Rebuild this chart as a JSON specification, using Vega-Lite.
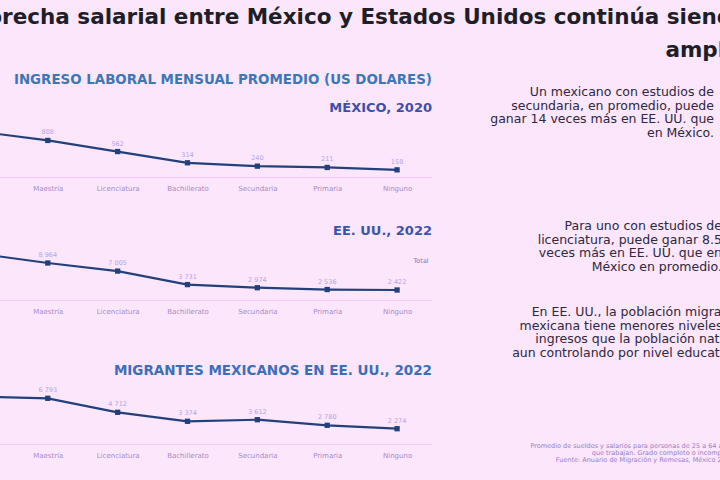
{
  "$schema": "https://vega.github.io/schema/vega-lite/v6.json",
  "background": "#fbe6fb",
  "padding": {"left": -57, "top": 7, "right": 0, "bottom": 30},
  "title": {
    "text": ["La brecha salarial entre México y Estados Unidos continúa siendo", "amplia"],
    "anchor": "end",
    "align": "right",
    "font": "DejaVu Sans",
    "fontSize": 21.5,
    "fontWeight": "bold",
    "color": "#1e1e28",
    "lineHeight": 33,
    "offset": 11,
    "dx": 5
  },
  "datasets": {
    "mexico": [
      {"nivel": "Doctorado", "ingreso": 1008},
      {"nivel": "Maestría", "ingreso": 808},
      {"nivel": "Licenciatura", "ingreso": 562},
      {"nivel": "Bachillerato", "ingreso": 314},
      {"nivel": "Secundaria", "ingreso": 240},
      {"nivel": "Primaria", "ingreso": 211},
      {"nivel": "Ninguno", "ingreso": 158}
    ],
    "eeuu": [
      {"nivel": "Doctorado", "ingreso": 11265, "serie": "Total"},
      {"nivel": "Maestría", "ingreso": 8964, "serie": "Total"},
      {"nivel": "Licenciatura", "ingreso": 7005, "serie": "Total"},
      {"nivel": "Bachillerato", "ingreso": 3731, "serie": "Total"},
      {"nivel": "Secundaria", "ingreso": 2974, "serie": "Total"},
      {"nivel": "Primaria", "ingreso": 2536, "serie": "Total"},
      {"nivel": "Ninguno", "ingreso": 2422, "serie": "Total"}
    ],
    "migrantes": [
      {"nivel": "Doctorado", "ingreso": 7031},
      {"nivel": "Maestría", "ingreso": 6793},
      {"nivel": "Licenciatura", "ingreso": 4712},
      {"nivel": "Bachillerato", "ingreso": 3374},
      {"nivel": "Secundaria", "ingreso": 3612},
      {"nivel": "Primaria", "ingreso": 2780},
      {"nivel": "Ninguno", "ingreso": 2274}
    ]
  },
  "spacing": 10,
  "hconcat": [
    {
      "spacing": 34,
      "resolve": {"scale": {"x": "independent", "y": "independent", "color": "independent"}},
      "vconcat": [
        {
          "data": {"name": "mexico"},
          "width": 489,
          "height": 40,
          "title": {
            "text": "INGRESO LABORAL MENSUAL PROMEDIO (US DOLARES)",
            "subtitle": "MÉXICO, 2020",
            "anchor": "end",
            "font": "DejaVu Sans",
            "fontSize": 13.4,
            "fontWeight": "bold",
            "color": "#3c78b4",
            "subtitleFont": "DejaVu Sans",
            "subtitleFontSize": 13,
            "subtitleFontWeight": "bold",
            "subtitleColor": "#3f4fa6",
            "subtitlePadding": 16,
            "offset": 5
          },
          "encoding": {
            "x": {
              "field": "nivel", "type": "nominal",
              "sort": ["Doctorado", "Maestría", "Licenciatura", "Bachillerato", "Secundaria", "Primaria", "Ninguno"],
              "title": null
            },
            "y": {"field": "ingreso", "type": "quantitative", "scale": {"domain": [0, 884], "nice": false}, "axis": null}
          },
          "layer": [
            {"mark": {"type": "line", "color": "#23407d", "strokeWidth": 2.2}},
            {"mark": {"type": "point", "shape": "square", "filled": true, "size": 28, "color": "#23407d", "opacity": 1}},
            {"mark": {"type": "text", "dy": -8, "fontSize": 6.5, "font": "DejaVu Sans", "color": "#b4a3e8"},
             "encoding": {"text": {"field": "ingreso", "type": "quantitative", "format": ",d"}}}
          ]
        },
        {
          "data": {"name": "eeuu"},
          "width": 489,
          "height": 45,
          "title": {
            "text": "EE. UU., 2022",
            "anchor": "end",
            "font": "DejaVu Sans",
            "fontSize": 13,
            "fontWeight": "bold",
            "color": "#3b55ac",
            "offset": 4
          },
          "encoding": {
            "x": {
              "field": "nivel", "type": "nominal",
              "sort": ["Doctorado", "Maestría", "Licenciatura", "Bachillerato", "Secundaria", "Primaria", "Ninguno"],
              "title": null
            },
            "y": {"field": "ingreso", "type": "quantitative", "scale": {"domain": [0, 10901], "nice": false}, "axis": null}
          },
          "layer": [
            {"mark": {"type": "line", "strokeWidth": 2.2},
             "encoding": {"color": {"field": "serie", "type": "nominal", "scale": {"range": ["#23407d"]},
               "legend": {"orient": "top-right", "offset": 3, "title": null, "labelFontSize": 6.5, "labelFont": "DejaVu Sans", "labelColor": "#8a7ab0", "symbolOpacity": 0, "symbolSize": 0, "padding": 0}}}},
            {"mark": {"type": "point", "shape": "square", "filled": true, "size": 28, "color": "#23407d", "opacity": 1}},
            {"mark": {"type": "text", "dy": -8, "fontSize": 6.5, "font": "DejaVu Sans", "color": "#b4a3e8"},
             "encoding": {"text": {"field": "ingreso", "type": "quantitative", "format": ",d"}}}
          ]
        },
        {
          "data": {"name": "migrantes"},
          "width": 489,
          "height": 50,
          "title": {
            "text": [" ", "MIGRANTES MEXICANOS EN EE. UU., 2022"],
            "anchor": "end",
            "font": "DejaVu Sans",
            "fontSize": 13.5,
            "fontWeight": "bold",
            "lineHeight": 16,
            "color": "#3c6fb8",
            "offset": 8
          },
          "encoding": {
            "x": {
              "field": "nivel", "type": "nominal",
              "sort": ["Doctorado", "Maestría", "Licenciatura", "Bachillerato", "Secundaria", "Primaria", "Ninguno"],
              "title": null
            },
            "y": {"field": "ingreso", "type": "quantitative", "scale": {"domain": [0, 7433], "nice": false}, "axis": null}
          },
          "layer": [
            {"mark": {"type": "line", "color": "#23407d", "strokeWidth": 2.2}},
            {"mark": {"type": "point", "shape": "square", "filled": true, "size": 28, "color": "#23407d", "opacity": 1}},
            {"mark": {"type": "text", "dy": -8, "fontSize": 6.5, "font": "DejaVu Sans", "color": "#b4a3e8"},
             "encoding": {"text": {"field": "ingreso", "type": "quantitative", "format": ",d"}}}
          ]
        }
      ]
    },
    {
      "spacing": 0,
      "vconcat": [
        {
          "data": {"values": [{}]},
          "mark": {"type": "point", "opacity": 0},
          "width": 272,
          "height": 83,
          "title": {
            "text": ["Un mexicano con estudios de", "secundaria, en promedio, puede", "ganar 14 veces más en EE. UU. que", "en México."],
            "anchor": "end", "align": "right", "font": "DejaVu Sans", "fontSize": 12.5, "fontWeight": "normal",
            "color": "#2e2840", "lineHeight": 13.5, "offset": -2
          }
        },
        {
          "data": {"values": [{}]},
          "mark": {"type": "point", "opacity": 0},
          "width": 280,
          "height": 33,
          "title": {
            "text": ["Para uno con estudios de", "licenciatura, puede ganar 8.5", "veces más en EE. UU. que en", "México en promedio."],
            "anchor": "end", "align": "right", "font": "DejaVu Sans", "fontSize": 12.5, "fontWeight": "normal",
            "color": "#2e2840", "lineHeight": 13.5, "offset": 0
          }
        },
        {
          "data": {"values": [{}]},
          "mark": {"type": "point", "opacity": 0},
          "width": 300,
          "height": 83,
          "title": {
            "text": ["En EE. UU., la población migrante", "mexicana tiene menores niveles de", "ingresos que la población nativa,", "aun controlando por nivel educativo."],
            "anchor": "end", "align": "right", "font": "DejaVu Sans", "fontSize": 12.5, "fontWeight": "normal",
            "color": "#2e2840", "lineHeight": 13.5, "offset": 0
          }
        },
        {
          "data": {"values": [{}]},
          "mark": {"type": "point", "opacity": 0},
          "width": 292,
          "height": 9,
          "title": {
            "text": ["Promedio de sueldos y salarios para personas de 25 a 64 años", "que trabajan. Grado completo o incompleto", "Fuente: Anuario de Migración y Remesas, México 2023"],
            "anchor": "end", "align": "right", "font": "DejaVu Sans", "fontSize": 6.5, "fontWeight": "normal",
            "color": "#9a7ec8", "lineHeight": 7, "offset": 0
          }
        }
      ]
    }
  ],
  "config": {
    "view": {"stroke": null},
    "locale": {"number": {"decimal": ",", "thousands": " ", "grouping": [3], "currency": ["$", ""]}},
    "axisX": {
      "domainColor": "#f3c9ef",
      "ticks": false,
      "grid": false,
      "labelFontSize": 7,
      "labelFont": "DejaVu Sans",
      "labelColor": "#a58bc9",
      "labelPadding": 7,
      "labelAngle": 0
    }
  }
}
